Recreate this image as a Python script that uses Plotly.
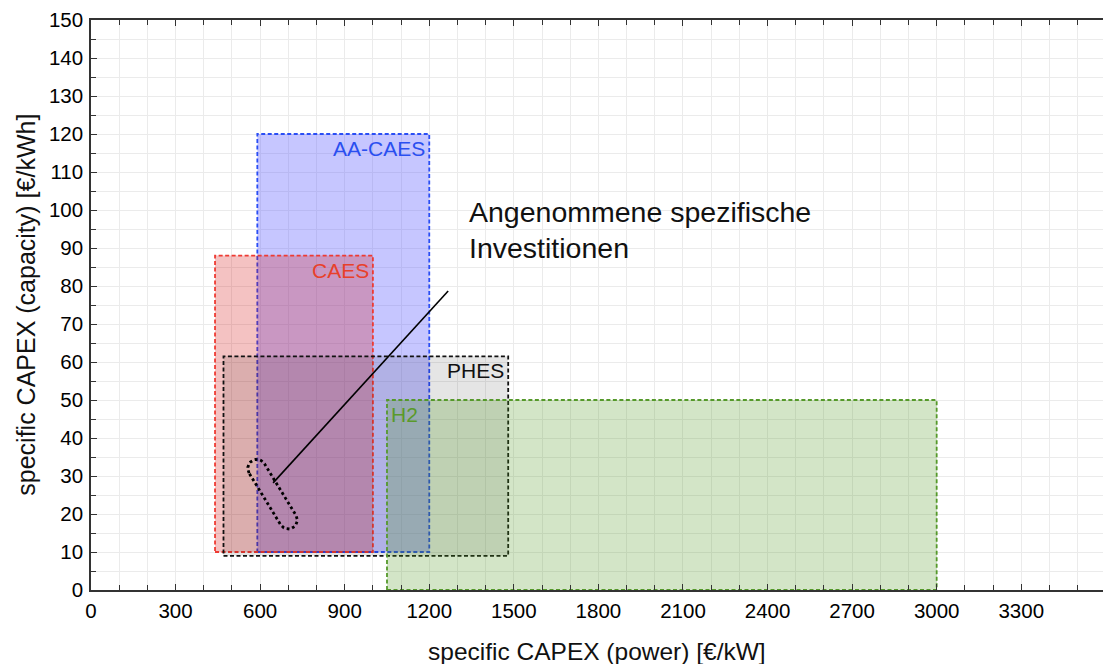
import numpy as np
import plotly.graph_objects as go

# ---- data ----
techs = ["CAES", "AA-CAES", "PHES", "H2"]
power_min = [440, 590, 470, 1050]      # €/kW
power_max = [1000, 1200, 1480, 3000]
cap_min = [10, 10, 9, 0]               # €/kWh
cap_max = [88, 120, 61.5, 50]

line_colors = {"CAES": "#ee3b33", "AA-CAES": "#2a4ef5", "PHES": "#111111", "H2": "#55992a"}
fill_colors = {"CAES": "rgba(210,11,11,0.25)", "AA-CAES": "rgba(100,100,255,0.37)",
               "PHES": "rgba(0,0,0,0.10)", "H2": "rgba(80,150,30,0.25)"}
label_colors = {"CAES": "#e8402a", "AA-CAES": "#2a4ff0", "PHES": "#111111", "H2": "#5a9a2a"}
draw_order = ["AA-CAES", "CAES", "PHES", "H2"]

# assumed specific investment (capsule) centre line
assumed_power = [588, 700]
assumed_cap = [32.0, 18.4]
assumed_radius_px = 9

# leader line
leader_power = [646, 1267]
leader_cap = [28.2, 78.7]

annot_lines = ["Angenommene spezifische", "Investitionen"]
annot_x = 1335
annot_y = [99.5, 90]

x_range = [0, 3590]
y_range = [0, 150]
W, H = 1103, 664
ml, mr, mt, mb = 91, 0, 20, 74

px_x = (W - ml - mr) / (x_range[1] - x_range[0])
px_y = (H - mt - mb) / (y_range[1] - y_range[0])

fig = go.Figure()

shapes = []
annotations = []
for t in draw_order:
    i = techs.index(t)
    shapes.append(dict(type="rect", xref="x", yref="y",
                       x0=power_min[i], x1=power_max[i], y0=cap_min[i], y1=cap_max[i],
                       fillcolor=fill_colors[t], layer="between",
                       line=dict(color=line_colors[t], width=1.8, dash="4px,2.5px")))
    if t == "H2":
        annotations.append(dict(x=power_min[i], y=cap_max[i], xref="x", yref="y",
                                text=t, showarrow=False, xanchor="left", yanchor="top",
                                xshift=2, yshift=-1,
                                font=dict(size=21, color=label_colors[t], family="Liberation Sans")))
    else:
        annotations.append(dict(x=power_max[i], y=cap_max[i], xref="x", yref="y",
                                text=t, showarrow=False, xanchor="right", yanchor="top",
                                xshift=-2, yshift=-1,
                                font=dict(size=21, color=label_colors[t], family="Liberation Sans")))

# capsule outline computed in pixel space then mapped back to data
p0 = np.array([assumed_power[0] * px_x, -assumed_cap[0] * px_y])
p1 = np.array([assumed_power[1] * px_x, -assumed_cap[1] * px_y])
d = p1 - p0
ang = np.arctan2(d[1], d[0])
th1 = np.linspace(ang + np.pi / 2, ang + 3 * np.pi / 2, 20)
th2 = np.linspace(ang - np.pi / 2, ang + np.pi / 2, 20)
pts = np.vstack([
    np.column_stack([p0[0] + assumed_radius_px * np.cos(th1), p0[1] + assumed_radius_px * np.sin(th1)]),
    np.column_stack([p1[0] + assumed_radius_px * np.cos(th2), p1[1] + assumed_radius_px * np.sin(th2)]),
])
pts = np.vstack([pts, pts[:1]])
cx = pts[:, 0] / px_x
cy = -pts[:, 1] / px_y
fig.add_trace(go.Scatter(x=cx, y=cy, mode="lines", hoverinfo="skip",
                         line=dict(color="black", width=2.8, dash="2.8px,2.8px"), showlegend=False))

fig.add_trace(go.Scatter(x=leader_power, y=leader_cap, mode="lines", hoverinfo="skip",
                         line=dict(color="black", width=1.6), showlegend=False))

for txt, yy in zip(annot_lines, annot_y):
    annotations.append(dict(x=annot_x, y=yy, xref="x", yref="y", text=txt, showarrow=False,
                            xanchor="left", yanchor="middle",
                            font=dict(size=28.5, color="#111111", family="Liberation Sans")))

# axis titles
annotations.append(dict(x=0.5, y=-0.108, xref="paper", yref="paper", yanchor="middle",
                        text="specific CAPEX (power) [€/kW]", showarrow=False,
                        font=dict(size=24.5, color="#111111", family="Liberation Sans")))
annotations.append(dict(x=-0.0645, y=0.5, xref="paper", yref="paper", xanchor="center",
                        text="specific CAPEX (capacity) [€/kWh]", showarrow=False, textangle=-90,
                        font=dict(size=25, color="#111111", family="Liberation Sans")))

grid_c = "#ebebeb"
fig.update_layout(
    width=W, height=H,
    margin=dict(l=ml, r=mr, t=mt, b=mb),
    paper_bgcolor="white", plot_bgcolor="white",
    shapes=shapes, annotations=annotations,
    font=dict(family="Liberation Sans", size=20, color="#000000"),
    xaxis=dict(range=x_range, tick0=0, dtick=300, ticks="inside", ticklen=6, tickwidth=1.2,
               tickcolor="#333", showline=True, linecolor="#333", linewidth=1.5, mirror="ticks",
               showgrid=True, gridcolor=grid_c, gridwidth=1, zeroline=False,
               tickfont=dict(size=20.5), ticklabelstandoff=2,
               minor=dict(dtick=100, ticks="inside", ticklen=5, tickcolor="#333",
                          showgrid=True, gridcolor=grid_c, gridwidth=1)),
    yaxis=dict(range=y_range, tick0=0, dtick=10, ticks="inside", ticklen=6, tickwidth=1.2,
               tickcolor="#333", showline=True, linecolor="#333", linewidth=1.5,
               showgrid=True, gridcolor=grid_c, gridwidth=1, zeroline=False,
               tickfont=dict(size=20.5), ticklabelstandoff=2,
               minor=dict(dtick=5, ticks="inside", ticklen=5, tickcolor="#333",
                          showgrid=True, gridcolor=grid_c, gridwidth=1)),
)

fig.write_html("out.html")
